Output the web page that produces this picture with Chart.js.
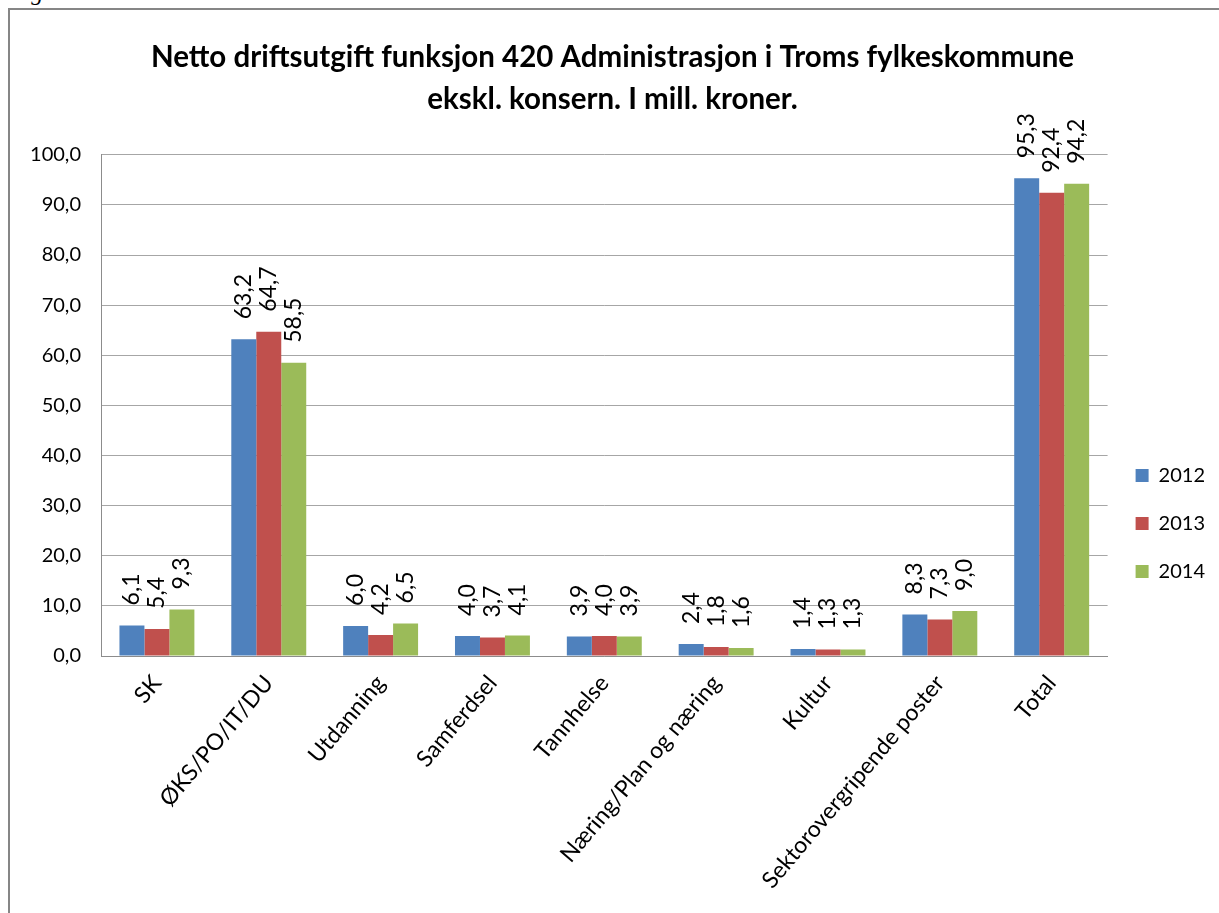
<!DOCTYPE html>
<html>
<head>
<meta charset="utf-8">
<script src="https://cdn.jsdelivr.net/npm/chart.js@4"></script>
<style>
  body { margin: 0; background: #fff; overflow: hidden; }
  #figur { position: absolute; left: 10px; top: -21px; font: italic 24px "Liberation Serif", serif; color: #000; }
  #box { position: absolute; left: 8px; top: 8px; border-left: 2px solid #868686; border-top: 2px solid #868686; }
  canvas { display: block; }
</style>
</head>
<body>
<div id="figur">Figur 4.4</div>
<div id="box"><canvas id="myChart" width="1209" height="903"></canvas></div>
<script>
const categories = ['SK', 'ØKS/PO/IT/DU', 'Utdanning', 'Samferdsel', 'Tannhelse',
    'Næring/Plan og næring', 'Kultur', 'Sektorovergripende poster', 'Total'];
const years = ['2012', '2013', '2014'];
const values2012 = [6.1, 63.2, 6.0, 4.0, 3.9, 2.4, 1.4, 8.3, 95.3];
const values2013 = [5.4, 64.7, 4.2, 3.7, 4.0, 1.8, 1.3, 7.3, 92.4];
const values2014 = [9.3, 58.5, 6.5, 4.1, 3.9, 1.6, 1.3, 9.0, 94.2];
const yMax = 100;
const yStep = 10;

const [BLUE, RED, GREEN] = ['#4f81bd', '#c0504d', '#9bbb59'];
const FONT = 'Lato, "Open Sans", sans-serif';
const fmt = v => v.toFixed(1).replace('.', ',');

// rotated value labels above each bar
const barLabels = {
    id: 'barLabels',
    afterDatasetsDraw(chart) {
        const ctx = chart.ctx;
        ctx.save();
        ctx.font = '23px ' + FONT;
        ctx.fillStyle = '#000';
        ctx.textAlign = 'left';
        ctx.textBaseline = 'middle';
        chart.data.datasets.forEach((ds, i) => {
            chart.getDatasetMeta(i).data.forEach((bar, j) => {
                ctx.save();
                ctx.translate(bar.x, bar.y - 20);
                ctx.rotate(-Math.PI / 2);
                ctx.fillText(fmt(ds.data[j]), 0, 0);
                ctx.restore();
            });
        });
        ctx.restore();
    }
};

const data = {
    labels: categories,
    datasets: [
        { label: years[0], data: values2012, backgroundColor: BLUE },
        { label: years[1], data: values2013, backgroundColor: RED },
        { label: years[2], data: values2014, backgroundColor: GREEN },
    ]
};

const config = {
    type: 'bar',
    data: data,
    options: {
        responsive: false,
        animation: false,
        categoryPercentage: 0.67,
        barPercentage: 1.0,
        layout: { padding: { left: 0, right: 4, top: 0, bottom: 0 } },
        scales: {
            x: {
                grid: { display: false, drawTicks: false },
                border: { color: '#8c8c8c', width: 1 },
                ticks: {
                    color: '#000',
                    font: { family: FONT, size: 23 },
                    minRotation: 50,
                    maxRotation: 50,
                    padding: 14,
                    autoSkip: false,
                },
                afterFit(scale) { scale.height = 257; },
            },
            y: {
                min: 0,
                max: yMax,
                ticks: {
                    stepSize: yStep,
                    color: '#000',
                    padding: 20,
                    font: { family: FONT, size: 20 },
                    callback: v => fmt(v),
                },
                grid: { color: '#a6a6a6', drawTicks: false },
                border: { color: '#8c8c8c', width: 1 },
                afterFit(scale) { scale.width = 91; },
            }
        },
        plugins: {
            title: {
                display: true,
                text: ['Netto driftsutgift funksjon 420 Administrasjon i Troms fylkeskommune',
                       'ekskl. konsern. I mill. kroner.'],
                color: '#000',
                font: { family: FONT, size: 29.5, weight: 'bold', lineHeight: 1.42 },
                padding: { top: 27, bottom: 34 },
            },
            legend: {
                position: 'right',
                title: {
                    display: true,
                    text: ' ',
                    font: { size: 10, lineHeight: 1 },
                    padding: { top: 57, bottom: 57 },
                },
                labels: {
                    boxWidth: 13,
                    boxHeight: 13,
                    padding: 28,
                    color: '#000',
                    font: { family: FONT, size: 20 },
                },
            },
            tooltip: { enabled: false },
        }
    },
    plugins: [barLabels]
};

const ctx = document.getElementById('myChart').getContext('2d');
new Chart(ctx, config);
</script>
</body>
</html>
